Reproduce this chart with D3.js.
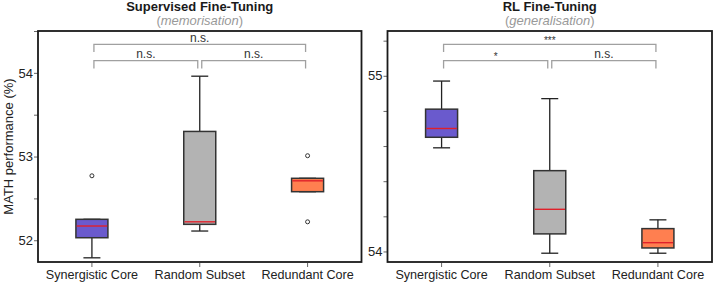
<!DOCTYPE html>
<html>
<head>
<meta charset="utf-8">
<script src="https://cdn.jsdelivr.net/npm/d3@7"></script>
<style>
  body { margin: 0; background: #fff; }
  svg { display: block; font-family: "Liberation Sans", Arial, sans-serif; }
</style>
</head>
<body>
<div id="chart"></div>
<script>
// categories shared by both panels
var categories = ["Synergistic Core", "Random Subset", "Redundant Core"];
var boxColors = ["#6a5acd", "#b3b3b3", "#ff7f50"];

// five-number summaries: [whisLo, q1, median, q3, whisHi]
var sftStats = [
  [51.79, 52.03, 52.17, 52.25, 52.25],
  [52.11, 52.19, 52.22, 53.30, 53.96],
  [52.58, 52.58, 52.71, 52.74, 52.74]
];
var sftFliers = [[52.77], [], [53.01, 52.22]];

var rlStats = [
  [54.59, 54.65, 54.70, 54.81, 54.97],
  [53.99, 54.10, 54.24, 54.46, 54.87],
  [53.99, 54.02, 54.05, 54.13, 54.18]
];
var rlFliers = [[], [], []];

// significance brackets: [from, to, label]
var sftSig = [[0, 2, "n.s."], [0, 1, "n.s."], [1, 2, "n.s."]];
var rlSig = [[0, 2, "***"], [0, 1, "*"], [1, 2, "n.s."]];

var sftTicks = [52, 52.5, 53, 53.5, 54, 54.5];
var rlTicks = [54, 54.2, 54.4, 54.6, 54.8, 55, 55.2];

var W = 714, H = 284;
var svg = d3.select("#chart").append("svg")
  .attr("width", W).attr("height", H);

function drawPanel(opts) {
  var left = opts.left, right = opts.right, top = 31, bottom = 262;
  var x = d3.scaleBand().domain(categories).range([left, right]).paddingInner(0).paddingOuter(0);
  var y = d3.scaleLinear().domain(opts.domain).range([bottom, top]);
  var g = svg.append("g");
  var boxW = 32, capW = 17;

  // y axis ticks
  var yAxis = d3.axisLeft(y).tickValues(opts.ticks).tickSize(4)
    .tickFormat(function(d) { return Number.isInteger(d) ? d : ""; });
  var ya = g.append("g").attr("transform", "translate(" + left + ",0)").call(yAxis);
  ya.select(".domain").remove();
  ya.selectAll(".tick line").attr("stroke", "#666");
  ya.selectAll(".tick text").attr("font-size", 13).attr("fill", "#222").attr("x", -5);

  // x axis ticks
  var xAxis = d3.axisBottom(x).tickSize(4).tickPadding(3);
  var xa = g.append("g").attr("transform", "translate(0," + bottom + ")").call(xAxis);
  xa.select(".domain").remove();
  xa.selectAll(".tick line").attr("stroke", "#666").attr("y1", 1).attr("y2", 5);
  xa.selectAll(".tick text").attr("font-size", 12.6).attr("fill", "#222")
    .attr("dy", null).attr("y", 17);

  // boxes
  opts.stats.forEach(function(s, i) {
    var cx = x(categories[i]) + x.bandwidth() / 2;
    var bg = g.append("g");
    bg.append("line").attr("x1", cx).attr("x2", cx).attr("y1", y(s[0])).attr("y2", y(s[1]))
      .attr("stroke", "#222").attr("stroke-width", 1.3);
    bg.append("line").attr("x1", cx).attr("x2", cx).attr("y1", y(s[3])).attr("y2", y(s[4]))
      .attr("stroke", "#222").attr("stroke-width", 1.3);
    bg.append("line").attr("x1", cx - capW / 2).attr("x2", cx + capW / 2).attr("y1", y(s[0])).attr("y2", y(s[0]))
      .attr("stroke", "#222").attr("stroke-width", 1.3);
    bg.append("line").attr("x1", cx - capW / 2).attr("x2", cx + capW / 2).attr("y1", y(s[4])).attr("y2", y(s[4]))
      .attr("stroke", "#222").attr("stroke-width", 1.3);
    bg.append("rect").attr("x", cx - boxW / 2).attr("width", boxW)
      .attr("y", y(s[3])).attr("height", y(s[1]) - y(s[3]))
      .attr("fill", boxColors[i]).attr("stroke", "#333").attr("stroke-width", 1.5);
    bg.append("line").attr("x1", cx - boxW / 2 + 0.75).attr("x2", cx + boxW / 2 - 0.75)
      .attr("y1", y(s[2])).attr("y2", y(s[2]))
      .attr("stroke", "#e0202a").attr("stroke-width", 1.4);
    opts.fliers[i].forEach(function(v) {
      bg.append("circle").attr("cx", cx).attr("cy", y(v)).attr("r", 2)
        .attr("fill", "none").attr("stroke", "#333").attr("stroke-width", 1);
    });
  });

  // significance brackets (axes fraction)
  var h = bottom - top;
  var levels = [{ y: bottom - 0.942 * h, leg: bottom - 0.909 * h },
                { y: bottom - 0.872 * h, leg: bottom - 0.838 * h }];
  opts.sig.forEach(function(s, k) {
    var lv = k === 0 ? levels[0] : levels[1];
    var x1 = x(categories[s[0]]) + x.bandwidth() / 2 + 2;
    var x2 = x(categories[s[1]]) + x.bandwidth() / 2 - 2;
    g.append("path")
      .attr("d", "M" + x1 + "," + lv.leg + "V" + lv.y + "H" + x2 + "V" + lv.leg)
      .attr("fill", "none").attr("stroke", "#a0a0a0").attr("stroke-width", 1.3);
    var star = s[2].indexOf("*") >= 0;
    g.append("text").attr("x", (x1 + x2) / 2).attr("y", lv.y - (star ? 0.5 : 2.5))
      .attr("text-anchor", "middle").attr("font-size", star ? 10 : 12)
      .attr("fill", "#333").text(s[2]);
  });

  // frame
  g.append("rect").attr("x", left).attr("y", top).attr("width", right - left).attr("height", bottom - top)
    .attr("fill", "none").attr("stroke", "#1a1a1a").attr("stroke-width", 1.8);

  // titles
  var tc = (left + right) / 2;
  svg.append("text").attr("x", tc).attr("y", 11).attr("text-anchor", "middle")
    .attr("font-weight", "bold")
    .attr("font-size", 13).attr("fill", "#1a1a1a").text(opts.title);
  svg.append("text").attr("x", tc).attr("y", 25).attr("text-anchor", "middle")
    .attr("font-size", 13).attr("fill", "#999")
    .html("(<tspan font-style='italic'>" + opts.subtitle + "</tspan>)");
}

drawPanel({ left: 38, right: 361.5, domain: [51.74, 54.5], ticks: sftTicks,
  stats: sftStats, fliers: sftFliers, sig: sftSig,
  title: "Supervised Fine-Tuning", subtitle: "memorisation" });
drawPanel({ left: 387.5, right: 712, domain: [53.94, 55.255], ticks: rlTicks,
  stats: rlStats, fliers: rlFliers, sig: rlSig,
  title: "RL Fine-Tuning", subtitle: "generalisation" });

svg.append("text").attr("transform", "translate(12.5,146.5) rotate(-90)")
  .attr("text-anchor", "middle").attr("font-size", 13).attr("fill", "#222")
  .text("MATH performance (%)");
</script>
</body>
</html>
